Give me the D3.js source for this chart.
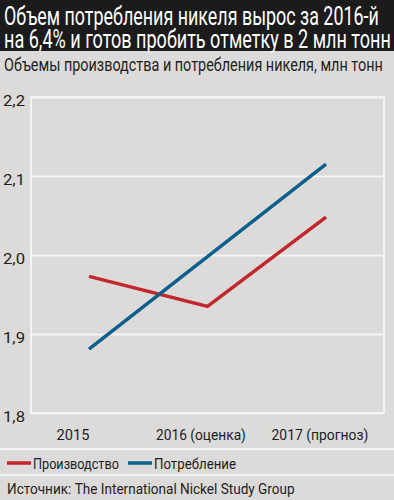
<!DOCTYPE html>
<html><head><meta charset="utf-8">
<script src="https://cdn.jsdelivr.net/npm/d3@7"></script>
<style>
html,body{margin:0;padding:0;background:#dcdbd9;}
svg{display:block;}
text{font-family:"Roboto","Noto Sans",sans-serif;}
</style></head>
<body><svg id="c" width="394" height="500"></svg>
<script>
const titleLines = ["Объем потребления никеля вырос за 2016-й", "на 6,4% и готов пробить отметку в 2 млн тонн"];
const subtitle = "Объемы производства и потребления никеля, млн тонн";
const categories = ["2015", "2016 (оценка)", "2017 (прогноз)"];
const production = [1.973, 1.935, 2.048];
const consumption = [1.881, 1.998, 2.115];
const yTicks = [1.8, 1.9, 2.0, 2.1, 2.2];
const seriesNames = ["Производство", "Потребление"];
const colors = ["#c1272d", "#0d5f8e"];
const source = "Источник: The International Nickel Study Group";

const svg = d3.select("#c");
// place a text with its left edge at (x, y baseline), horizontally condensed to width w
function condensed(parent, str, x, y, size, w, fill){
  const t = parent.append("text").attr("text-anchor","start").attr("font-size",size).attr("fill",fill).text(str);
  const nat = t.node().getComputedTextLength();
  t.attr("transform",`translate(${x},${y}) scale(${w/nat},1)`);
  return t;
}

svg.append("rect").attr("width",394).attr("height",500).attr("fill","#dcdbd9");
svg.append("rect").attr("width",394).attr("height",51).attr("fill","#1b1b1b");
const titleW = [375, 387];
titleLines.forEach((s,i)=>condensed(svg, s, 4, 25+i*23, 25, titleW[i], "#fff"));
condensed(svg, subtitle, 4, 71, 18, 379, "#1e1e1e");

const x = d3.scalePoint().domain(categories).range([89,326]);
const y = d3.scaleLinear().domain([1.8,2.2]).range([413,97]);

// frame
svg.append("rect").attr("x",31).attr("y",97).attr("width",353).attr("height",316)
  .attr("fill","none").attr("stroke","#f4f4f4").attr("stroke-width",2);
const yAxis = d3.axisLeft(y).tickValues(yTicks).tickSize(-353).tickFormat(d=>d3.format(".1f")(d).replace(".",","));
const ga = svg.append("g").attr("transform","translate(31,0)").call(yAxis);
ga.select(".domain").remove();
ga.selectAll(".tick line").attr("stroke","#f4f4f4").attr("stroke-width",2);
ga.selectAll(".tick").each(function(d){
  const g = d3.select(this); const lbl = g.select("text").text(); g.select("text").remove();
  condensed(g, lbl, -28, 8, 15.5, 22, "#1e1e1e");
});

const xAxis = d3.axisBottom(x).tickSize(0);
const gx = svg.append("g").attr("transform","translate(0,413)").call(xAxis);
gx.select(".domain").remove();
const xOff = [-33,-52,-55], xW = [33,90,97];
gx.selectAll(".tick").each(function(d,i){
  const g = d3.select(this); g.select("text").remove();
  condensed(g, d, xOff[i], 27, 15.5, xW[i], "#1e1e1e");
});

const line = d3.line().x((d,i)=>x(categories[i])).y(d=>y(d));
[production, consumption].forEach((s,k)=>{
  svg.append("path").attr("d",line(s)).attr("fill","none").attr("stroke",colors[k])
    .attr("stroke-width",3.5).attr("stroke-linejoin","miter");
});

// separators
[449,475].forEach(yy=>svg.append("line").attr("x1",0).attr("x2",394).attr("y1",yy).attr("y2",yy)
  .attr("stroke","#f2f2f2").attr("stroke-width",2));

// legend
const lx = [7,128], lw = [86,82];
seriesNames.forEach((n,k)=>{
  svg.append("line").attr("x1",lx[k]).attr("x2",lx[k]+24).attr("y1",463).attr("y2",463)
    .attr("stroke",colors[k]).attr("stroke-width",3.5);
  condensed(svg, n, lx[k]+26, 469, 15.5, lw[k], "#1e1e1e");
});
condensed(svg, source, 7, 494, 15.5, 288, "#1e1e1e");
</script></body></html>
